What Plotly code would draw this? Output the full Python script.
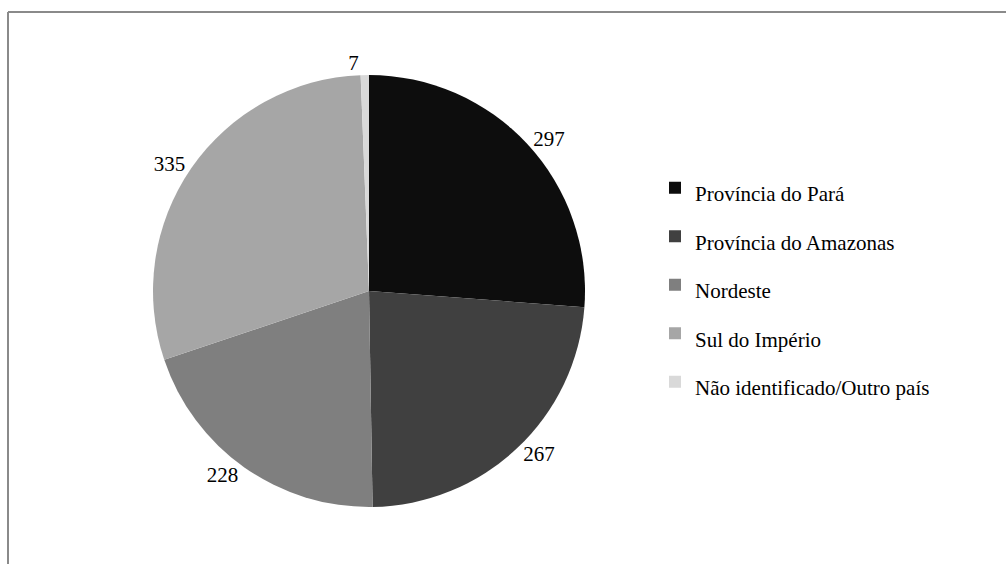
import plotly.graph_objects as go

# Origem dos registros por região
labels = ["Província do Pará", "Província do Amazonas", "Nordeste",
          "Sul do Império", "Não identificado/Outro país"]
values = [297, 267, 228, 335, 7]
colors = ["#0d0d0d", "#404040", "#7f7f7f", "#a6a6a6", "#d9d9d9"]

W, H = 1006, 564
FONT = "Liberation Serif"

# legend names keep the visible size small while the legend font sets row spacing
legend_names = [f"<span style='font-size:21px'>{t}</span>" for t in labels]

cx, cy, r = 369, 291, 216

fig = go.Figure(go.Pie(
    labels=legend_names,
    values=values,
    sort=False,
    direction="clockwise",
    rotation=0,
    marker=dict(colors=colors, line=dict(width=0)),
    textinfo="value",
    textposition="outside",
    textfont=dict(family=FONT, size=21, color="#000000"),
    outsidetextfont=dict(family=FONT, size=21, color="#000000"),
    automargin=False,
    hoverinfo="label+value",
    domain=dict(x=[(cx - r) / W, (cx + r) / W],
                y=[1 - (cy + r) / H, 1 - (cy - r) / H]),
))

line_col = "#8a8a8a"
fig.update_layout(
    width=W, height=H,
    margin=dict(l=0, r=0, t=0, b=0),
    font=dict(family=FONT, size=21, color="#000000"),
    paper_bgcolor="white",
    plot_bgcolor="white",
    showlegend=True,
    legend=dict(
        x=655 / W, xanchor="left",
        y=1 - 285 / H, yanchor="middle",
        font=dict(family=FONT, size=35, color="#000000"),
        bgcolor="rgba(0,0,0,0)",
    ),
    shapes=[
        dict(type="line", xref="paper", yref="paper",
             x0=8 / W, x1=1, y0=1 - 12 / H, y1=1 - 12 / H,
             line=dict(color=line_col, width=2)),
        dict(type="line", xref="paper", yref="paper",
             x0=8 / W, x1=8 / W, y0=0, y1=1 - 12 / H,
             line=dict(color=line_col, width=2)),
    ],
)

fig.write_html("out.html")
